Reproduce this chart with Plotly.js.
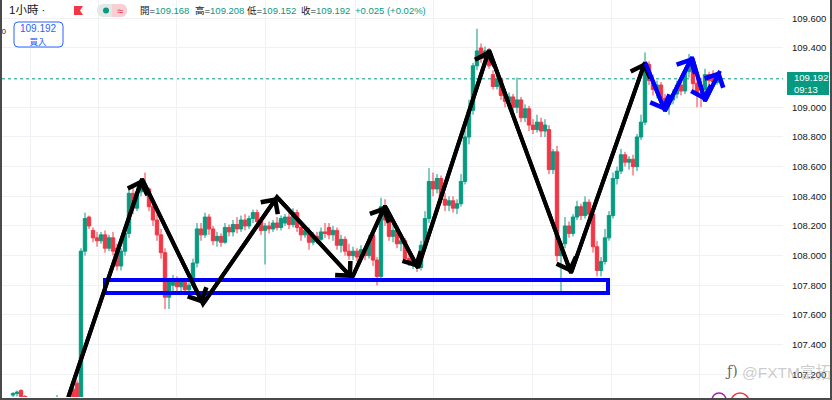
<!DOCTYPE html>
<html>
<head>
<meta charset="utf-8">
<script src="https://cdn.plot.ly/plotly-3.0.1.min.js"></script>
<style>
html,body{margin:0;padding:0;background:#fff;}
#chart{width:828px;height:398px;border-left:2px solid #4a4a4a;border-right:2px solid #4a4a4a;border-bottom:2px solid #4a4a4a;}
</style>
</head>
<body>
<div id="chart"></div>
<script>
// ---------------- DATA ----------------
const openP = [107.06,107.07,107.09,107.05,107.00,106.97,106.95,106.97,106.96,106.98,106.99,107.00,107.03,107.01,107.00,107.10,107.14,107.04,108.03,108.26,
108.17,108.12,108.10,108.14,108.05,108.12,108.05,107.93,108.03,108.15,108.42,108.32,108.43,108.48,108.45,108.33,108.24,108.14,108.02,107.72,
107.80,107.84,107.79,107.82,107.77,107.80,107.95,108.18,108.14,108.26,108.18,108.10,108.13,108.09,108.19,108.16,108.21,108.18,108.24,108.20,
108.25,108.29,108.23,108.17,108.20,108.18,108.22,108.19,108.22,108.26,108.21,108.29,108.19,108.14,108.17,108.09,108.13,108.11,108.16,108.19,
108.14,108.17,108.07,108.11,108.03,108.00,108.03,107.99,108.04,108.00,108.14,107.97,107.86,108.33,108.24,108.13,108.17,108.08,108.10,107.98,
107.95,107.97,107.92,108.07,108.25,108.50,108.45,108.52,108.38,108.34,108.37,108.32,108.35,108.50,108.80,108.98,109.28,109.40,109.33,109.38,
109.22,109.14,109.19,109.08,109.04,109.07,109.00,109.05,108.93,108.99,108.88,108.85,108.90,108.84,108.85,108.58,108.70,108.00,108.08,108.20,
108.15,108.26,108.33,108.27,108.36,108.28,108.06,107.90,107.96,108.12,108.27,108.52,108.57,108.68,108.63,108.65,108.60,108.80,108.90,109.29,
109.18,109.12,109.15,109.06,109.02,109.05,109.09,109.15,109.11,109.24,109.30,109.16,109.15,109.12,109.22,109.20,109.168];
const highP = [107.08,107.09,107.10,107.06,107.03,107.00,106.99,107.01,107.00,107.02,107.03,107.06,107.04,107.04,107.03,107.13,107.16,108.05,108.29,108.27,
108.19,108.16,108.16,108.17,108.14,108.16,108.08,108.05,108.18,108.45,108.46,108.46,108.52,108.56,108.46,108.36,108.28,108.18,108.05,107.85,
107.87,107.86,107.85,107.84,107.82,107.98,108.22,108.22,108.29,108.28,108.20,108.16,108.15,108.22,108.21,108.24,108.26,108.27,108.28,108.27,
108.31,108.31,108.26,108.22,108.23,108.24,108.26,108.27,108.28,108.29,108.32,108.31,108.22,108.20,108.19,108.16,108.16,108.19,108.22,108.22,
108.20,108.19,108.14,108.13,108.08,108.06,108.05,108.07,108.06,108.14,108.17,107.99,108.39,108.38,108.28,108.22,108.20,108.13,108.12,108.01,
108.00,107.99,108.10,108.30,108.59,108.56,108.55,108.54,108.42,108.40,108.40,108.38,108.55,108.85,109.05,109.30,109.53,109.43,109.41,109.40,
109.25,109.21,109.20,109.12,109.10,109.09,109.20,109.07,109.02,109.01,108.92,108.95,108.93,108.92,108.88,108.72,108.74,108.10,108.26,108.23,
108.28,108.37,108.35,108.40,108.38,108.31,108.10,107.99,108.18,108.30,108.56,108.60,108.72,108.70,108.67,108.68,108.82,108.95,109.37,109.31,
109.22,109.18,109.17,109.09,109.08,109.12,109.18,109.19,109.27,109.36,109.32,109.20,109.20,109.26,109.24,109.25,109.208];
const lowP = [107.04,107.05,107.03,106.98,106.95,106.92,106.91,106.93,106.92,106.94,106.95,106.97,106.98,106.96,106.95,107.00,107.00,107.02,108.00,108.18,
108.09,108.06,108.08,108.02,108.03,108.00,107.90,107.90,108.00,108.12,108.28,108.30,108.40,108.42,108.30,108.20,108.10,107.98,107.64,107.64,
107.74,107.76,107.76,107.74,107.74,107.78,107.92,108.10,108.12,108.14,108.07,108.06,108.06,108.08,108.13,108.13,108.15,108.16,108.17,108.18,
108.22,108.20,108.14,107.94,108.15,108.16,108.17,108.17,108.20,108.18,108.19,108.16,108.10,108.12,108.04,108.07,108.08,108.10,108.12,108.11,
108.10,108.04,108.02,108.00,107.97,107.97,107.96,107.96,107.97,107.98,107.93,107.80,107.84,108.20,108.10,108.09,108.05,108.03,107.95,107.93,
107.91,107.89,107.90,108.05,108.22,108.40,108.42,108.35,108.30,108.30,108.29,108.28,108.33,108.48,108.75,108.95,109.25,109.30,109.30,109.26,
109.12,109.12,109.05,109.00,108.99,108.97,108.96,108.90,108.90,108.84,108.82,108.83,108.80,108.80,108.55,108.55,107.96,107.76,108.05,108.12,
108.13,108.24,108.24,108.25,108.25,108.02,107.86,107.86,107.94,108.10,108.25,108.48,108.55,108.60,108.58,108.54,108.57,108.78,108.88,109.15,
109.08,109.06,109.02,108.98,108.95,109.02,109.06,109.08,109.09,109.20,109.12,109.00,109.00,109.10,109.15,109.15,109.152];
const closeP = [107.07,107.08,107.05,107.00,106.97,106.95,106.97,106.96,106.98,106.99,107.00,107.03,107.01,107.00,107.02,107.04,107.04,108.03,108.25,108.20,
108.12,108.10,108.14,108.05,108.12,108.03,107.93,108.03,108.15,108.42,108.32,108.43,108.48,108.45,108.33,108.24,108.14,108.02,107.72,107.82,
107.84,107.79,107.82,107.77,107.80,107.95,108.18,108.14,108.26,108.18,108.10,108.13,108.09,108.19,108.16,108.21,108.18,108.24,108.20,108.25,
108.29,108.23,108.17,108.20,108.18,108.22,108.19,108.25,108.26,108.21,108.29,108.19,108.14,108.17,108.09,108.13,108.11,108.16,108.15,108.14,
108.17,108.07,108.11,108.03,108.00,108.03,107.99,108.04,108.00,108.10,107.97,107.86,108.33,108.24,108.13,108.17,108.08,108.10,107.98,107.95,
107.97,107.92,108.07,108.25,108.50,108.45,108.52,108.38,108.34,108.37,108.32,108.35,108.50,108.80,108.98,109.28,109.38,109.33,109.38,109.28,
109.14,109.19,109.08,109.04,109.07,109.00,109.05,108.93,108.99,108.88,108.85,108.90,108.84,108.88,108.58,108.70,108.00,108.08,108.20,108.15,
108.26,108.33,108.27,108.36,108.28,108.06,107.90,107.96,108.12,108.27,108.52,108.57,108.68,108.63,108.65,108.60,108.80,108.90,109.29,109.18,
109.12,109.15,109.06,109.02,109.05,109.09,109.15,109.11,109.24,109.30,109.16,109.08,109.12,109.22,109.18,109.17,109.192];

const yTickVals   = [107.2,107.4,107.6,107.8,108.0,108.2,108.4,108.6,108.8,109.0,109.4,109.6];
const xGridVals   = [4.25,21.25,40.75,63,85.5,105,129.75,149.5,171.5];

// drawing-tool annotations (bar index, price)
const blackPathX = [13.75,32.25,47.5,66,84.75,93,101.25,119,139.5,158];
const blackPathY = [107.04,108.517,107.674,108.395,107.849,108.335,107.917,109.386,107.883,109.305];
const bluePathX  = [158,163,169.75,173,176.75];
const bluePathY  = [109.305,108.975,109.339,109.042,109.245];
const zoneX = [23,148.75];
const zoneY = [107.748,107.836];

const lastPrice = 109.192;
const lastTime = "09:13";
const ohlcLabels = ["開","高","低","收"];
const ohlcValues = ["109.168","109.208","109.152","109.192"];
const changeText = "+0.025 (+0.02%)";
const intervalText = "1小時 ·";
const buyLabel = "買入";
const watermark = "@FXTM富拓";

// ---------------- CHART ----------------
const idx = closeP.map((_, i) => i);
const UP = '#089981', DOWN = '#f23645';
const W = 828, PLOT_R = 781, PLOT_B = 397;
const PX = p => (p - 2) / PLOT_R;          // page x -> paper
const PY = p => 1 - p / PLOT_B;            // page y -> paper

const traces = [
  {
    type: 'candlestick', x: idx, open: openP, high: highP, low: lowP, close: closeP,
    increasing: {line: {color: UP, width: 1}, fillcolor: UP},
    decreasing: {line: {color: DOWN, width: 1}, fillcolor: DOWN},
    whiskerwidth: 0, hoverinfo: 'skip', showlegend: false
  },
  {
    type: 'scatter', mode: 'lines', x: blackPathX, y: blackPathY,
    line: {color: '#000', width: 4}, hoverinfo: 'skip', showlegend: false
  },
  {
    type: 'scatter', mode: 'lines', x: bluePathX, y: bluePathY,
    line: {color: '#0000ff', width: 4}, hoverinfo: 'skip', showlegend: false
  }
];

const annotations = [];
function addArrows(xs, ys, color) {
  for (let k = 1; k < xs.length; k++) {
    annotations.push({
      x: xs[k], y: ys[k], ax: xs[k-1], ay: ys[k-1], xref: 'x', yref: 'y', axref: 'x', ayref: 'y',
      text: '', showarrow: true, arrowhead: 4, arrowsize: 1, arrowwidth: 4, arrowcolor: color
    });
  }
}
addArrows(blackPathX, blackPathY, '#000000');
addArrows(bluePathX, bluePathY, '#0000ff');

const hdrFont = "'Liberation Sans', 'Noto Sans CJK TC', sans-serif";
const axFont = "'Liberation Sans', 'Noto Sans', sans-serif";
function txt(t, x, y, size, color, extra) {
  annotations.push(Object.assign({
    text: t, x: PX(x), y: PY(y), xref: 'paper', yref: 'paper', xanchor: 'left', yanchor: 'middle',
    showarrow: false, font: {size: size, color: color, family: hdrFont}
  }, extra || {}));
}
txt(intervalText, 7, 10, 11.5, '#131722');
txt('≈', 115, 10.5, 11, '#f23645');
const ohlcX = [138, 193, 245, 299];
ohlcLabels.forEach((lab, k) => {
  txt('<span style="color:#131722">' + lab + '=</span>' + ohlcValues[k], ohlcX[k], 10.5, 9.5, UP);
});
txt(changeText, 353, 10.5, 9.5, UP);
txt('00', 0, 32, 8, '#131722', {xanchor: 'left', xshift: -5});
txt(lastPrice.toFixed(3) + '<br><span style="font-size:8.5px">' + buyLabel + '</span>', 38.5, 35, 10, '#2962ff',
    {xanchor: 'center', align: 'center'});
txt(lastPrice.toFixed(3) + '<br>' + lastTime, 792, 84, 9.5, '#ffffff',
    {align: 'left', font: {size: 9.5, color: '#ffffff', family: axFont}});
txt(watermark, 740, 372, 15.5, 'rgba(160,160,160,0.55)');
txt('ƒ)', 723, 371, 14, 'rgba(60,60,60,0.8)', {font: {size: 14, color: 'rgba(60,60,60,0.8)', family: 'DejaVu Serif'}});

function rrect(x0, y0, x1, y1, r) {
  const a = PX(x0), b = PX(x1), c = PY(y0), d = PY(y1);
  const rx = r / PLOT_R, ry = r / PLOT_B;
  return `M${a+rx},${c} L${b-rx},${c} Q${b},${c} ${b},${c-ry} L${b},${d+ry} Q${b},${d} ${b-rx},${d} L${a+rx},${d} Q${a},${d} ${a},${d+ry} L${a},${c-ry} Q${a},${c} ${a+rx},${c} Z`;
}

const shapes = [
  {type: 'line', xref: 'paper', x0: 0, x1: 1, yref: 'y', y0: lastPrice, y1: lastPrice,
   line: {color: UP, width: 1, dash: 'dot'}, layer: 'below'},
  {type: 'rect', xref: 'x', yref: 'y', x0: zoneX[0], x1: zoneX[1], y0: zoneY[0], y1: zoneY[1],
   line: {color: '#0000ff', width: 4}, fillcolor: 'rgba(0,0,0,0)'},
  {type: 'rect', xref: 'paper', yref: 'paper', x0: PX(787), x1: PX(829), y0: PY(95), y1: PY(72),
   line: {width: 0}, fillcolor: UP},
  {type: 'path', xref: 'paper', yref: 'paper', path: rrect(14, 22, 63, 47, 4),
   line: {color: '#2962ff', width: 1}, fillcolor: '#ffffff'},
  {type: 'path', xref: 'paper', yref: 'paper',
   path: `M${PX(74)},${PY(6)} L${PX(83)},${PY(6)} L${PX(80)},${PY(10.5)} L${PX(83)},${PY(15)} L${PX(74)},${PY(15)} Z`,
   line: {width: 0}, fillcolor: '#f23645'},
  {type: 'path', xref: 'paper', yref: 'paper', path: rrect(97, 4, 127, 17, 6.5),
   line: {width: 0}, fillcolor: '#e3e8e7'},
  {type: 'path', xref: 'paper', yref: 'paper',
   path: `M${PX(112)},${PY(4)} L${PX(121)},${PY(4)} Q${PX(127)},${PY(4)} ${PX(127)},${PY(10.5)} Q${PX(127)},${PY(17)} ${PX(121)},${PY(17)} L${PX(112)},${PY(17)} Z`,
   line: {width: 0}, fillcolor: '#f8cfd4'},
  {type: 'circle', xref: 'paper', yref: 'paper', x0: PX(103), x1: PX(109), y0: PY(13.5), y1: PY(7.5),
   line: {width: 0}, fillcolor: UP},
  {type: 'circle', xref: 'paper', yref: 'paper', x0: PX(712), x1: PX(726), y0: PY(407), y1: PY(393),
   line: {color: '#9c27b0', width: 1.5}, fillcolor: 'rgba(0,0,0,0)'},
  {type: 'circle', xref: 'paper', yref: 'paper', x0: PX(731), x1: PX(749), y0: PY(411), y1: PY(393),
   line: {color: '#f23645', width: 1.5}, fillcolor: 'rgba(0,0,0,0)'}
];

const layout = {
  width: W, height: 398,
  margin: {l: 0, r: W - PLOT_R, t: 0, b: 398 - PLOT_B, pad: 0},
  paper_bgcolor: '#ffffff', plot_bgcolor: '#ffffff',
  showlegend: false, dragmode: false, boxgap: 0.15, boxgroupgap: 0,
  xaxis: {
    range: [-2.75, 192.5], rangeslider: {visible: false}, showticklabels: false,
    tickmode: 'array', tickvals: xGridVals, ticks: '', showgrid: true, gridcolor: '#f0f1f4', gridwidth: 1,
    zeroline: false, showline: false, fixedrange: true
  },
  yaxis: {
    side: 'right', range: [107.0469, 109.7234], tickmode: 'array', tickvals: yTickVals,
    tickformat: '.3f', ticks: '', ticklabelstandoff: 8, showgrid: true, gridcolor: '#f0f1f4', gridwidth: 1,
    zeroline: false, showline: false, automargin: false, fixedrange: true,
    tickfont: {size: 9.5, color: '#131722', family: axFont}
  },
  shapes: shapes,
  annotations: annotations
};

Plotly.newPlot('chart', traces, layout, {displayModeBar: false, staticPlot: true});
</script>
</body>
</html>
